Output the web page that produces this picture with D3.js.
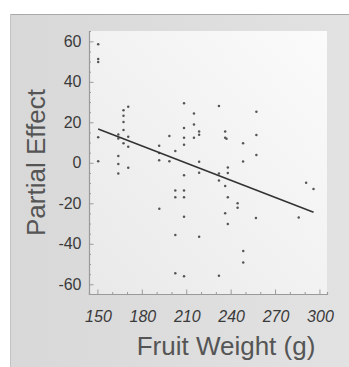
<!DOCTYPE html>
<html>
<head>
<meta charset="utf-8">
<script src="https://cdn.jsdelivr.net/npm/d3@7"></script>
<style>
  body { margin: 0; background: #fff; }
  svg { display: block; }
</style>
</head>
<body>
<script>
// fruit weight (g) vs partial effect
const weight = [150.5, 150.5, 150.5, 150.5, 150.5, 164.1, 164.1, 164.1, 164.1, 164.1,
  167.6, 167.6, 167.6, 167.6, 167.6, 170.8, 170.8, 170.8, 170.8, 191.7,
  191.7, 191.7, 191.8, 198.6, 198.6, 202.6, 202.6, 202.6, 202.6, 202.6,
  208.5, 208.5, 208.5, 208.5, 208.5, 208.5, 208.5, 208.5, 208.5, 215.2,
  215.2, 215.2, 218.7, 218.7, 218.7, 218.7, 218.7, 232.1, 232.1, 232.1,
  232.1, 236.3, 236.3, 237.2, 236.3, 236.3, 238.1, 238.1, 238.1, 238.1,
  244.7, 244.7, 248.4, 248.4, 248.5, 248.5, 257.4, 257.4, 257.4, 257.1,
  286, 291, 296];
const effect = [58.6, 51.3, 49.8, 12.6, 0.8, 14.0, 12.0, 3.3, -0.6, -5.3,
  26.0, 23.3, 20.1, 16.2, 9.6, 27.7, 12.9, 7.9, -2.5, 8.4,
  4.8, 1.3, -22.7, 13.2, 0.8, 5.8, -13.7, -17, -35.7, -54.6,
  29.4, 17.2, 12.4, 8.9, -6.1, -13.7, -17, -26.7, -56, 24.3,
  18.9, 12.4, 15.5, 13.8, 0.5, -4.9, -36.5, 28.0, -5.3, -8.8,
  -55.8, 15.5, 12.4, 11.9, -11.5, -24.9, -2.3, -5.0, -17, -30.2,
  -20, -22.2, 9.6, 0.7, -43.6, -49.2, 25.2, 13.7, 3.9, -27.3,
  -27, -9.8, -12.9];

// fitted line ends
const fitX = [150.5, 296];
const fitY = [16.7, -24.4];

const xTicks = [150, 180, 210, 240, 270, 300];
const yTicks = [60, 40, 20, 0, -20, -40, -60];

const width = 349, height = 367;
const plot = {left: 89, top: 31, right: 327, bottom: 294};

const x = d3.scaleLinear().domain([144.3, 305.1]).range([plot.left, plot.right]);
const y = d3.scaleLinear().domain([-64.8, 65.1]).range([plot.bottom, plot.top]);

const svg = d3.select("body").append("svg")
    .attr("width", width)
    .attr("height", height);

const defs = svg.append("defs");
const g1 = defs.append("linearGradient").attr("id", "panelGrad")
    .attr("x1", 0).attr("y1", 0).attr("x2", 1).attr("y2", 0);
g1.append("stop").attr("offset", 0).attr("stop-color", "#d8d8d8");
g1.append("stop").attr("offset", 1).attr("stop-color", "#e2e2e2");

const g2 = defs.append("linearGradient").attr("id", "plotGrad")
    .attr("x1", 0).attr("y1", 1).attr("x2", 1).attr("y2", 0);
g2.append("stop").attr("offset", 0).attr("stop-color", "#e9e9e9");
g2.append("stop").attr("offset", 1).attr("stop-color", "#fbfbfb");

// grey panel behind everything
svg.append("rect")
    .attr("x", 10).attr("y", 14)
    .attr("width", width - 10).attr("height", height - 14)
    .attr("fill", "url(#panelGrad)");
svg.append("line")
    .attr("x1", 10).attr("x2", width).attr("y1", 14.5).attr("y2", 14.5)
    .attr("stroke", "#a8a8a8");
svg.append("line")
    .attr("x1", 10.5).attr("x2", 10.5).attr("y1", 14).attr("y2", height)
    .attr("stroke", "#c4c4c4");

// plot area
svg.append("rect")
    .attr("x", plot.left).attr("y", plot.top)
    .attr("width", plot.right - plot.left).attr("height", plot.bottom - plot.top)
    .attr("fill", "url(#plotGrad)");

// axes, ticks point inwards
const xAxis = svg.append("g")
    .attr("transform", `translate(0,${plot.bottom})`)
    .call(d3.axisBottom(x).tickValues(d3.range(150, 301, 10)).tickSize(-2).tickFormat(""));
xAxis.selectAll(".tick line")
    .attr("y2", d => xTicks.includes(d) ? -4.5 : -2);

const yAxis = svg.append("g")
    .attr("transform", `translate(${plot.left},0)`)
    .call(d3.axisLeft(y).tickValues(d3.range(-60, 61, 5)).tickSize(-2).tickFormat(""));
yAxis.selectAll(".tick line")
    .attr("x2", d => yTicks.includes(d) ? 4.5 : 2);

svg.selectAll(".domain").attr("stroke", "#9a9a9a").attr("stroke-width", 1.2);
svg.selectAll(".tick line").attr("stroke", "#9a9a9a");

// tick labels
svg.append("g")
  .selectAll("text")
  .data(xTicks)
  .join("text")
    .attr("x", d => x(d) + 1)
    .attr("y", 321.5)
    .attr("text-anchor", "middle")
    .attr("font-family", "Liberation Sans, Arial, sans-serif")
    .attr("font-style", "italic")
    .attr("font-size", 16)
    .attr("fill", "#3a3a3a")
    .text(d => d);

svg.append("g")
  .selectAll("text")
  .data(yTicks)
  .join("text")
    .attr("x", 81.5)
    .attr("y", d => y(d) + 5.5)
    .attr("text-anchor", "end")
    .attr("font-family", "Liberation Sans, Arial, sans-serif")
    .attr("font-size", 16)
    .attr("fill", "#3a3a3a")
    .text(d => d);

// axis titles
svg.append("text")
    .attr("x", (135 + 317) / 2)
    .attr("y", 355)
    .attr("text-anchor", "middle")
    .attr("font-family", "Liberation Sans, Arial, sans-serif")
    .attr("font-size", 26)
    .attr("fill", "#555")
    .text("Fruit Weight (g)");

svg.append("text")
    .attr("transform", "translate(45,162.5) rotate(-90)")
    .attr("text-anchor", "middle")
    .attr("font-family", "Liberation Sans, Arial, sans-serif")
    .attr("font-size", 26)
    .attr("fill", "#555")
    .text("Partial Effect");

// points
const pts = weight.map((w, i) => ({w: w, e: effect[i]}));
svg.append("g")
  .selectAll("circle")
  .data(pts)
  .join("circle")
    .attr("cx", d => x(d.w))
    .attr("cy", d => y(d.e))
    .attr("r", 1.25)
    .attr("fill", "#555");

// regression line
svg.append("path")
    .datum(fitX.map((v, i) => [v, fitY[i]]))
    .attr("fill", "none")
    .attr("stroke", "#333")
    .attr("stroke-width", 1.6)
    .attr("d", d3.line().x(d => x(d[0])).y(d => y(d[1])));
</script>
</body>
</html>
